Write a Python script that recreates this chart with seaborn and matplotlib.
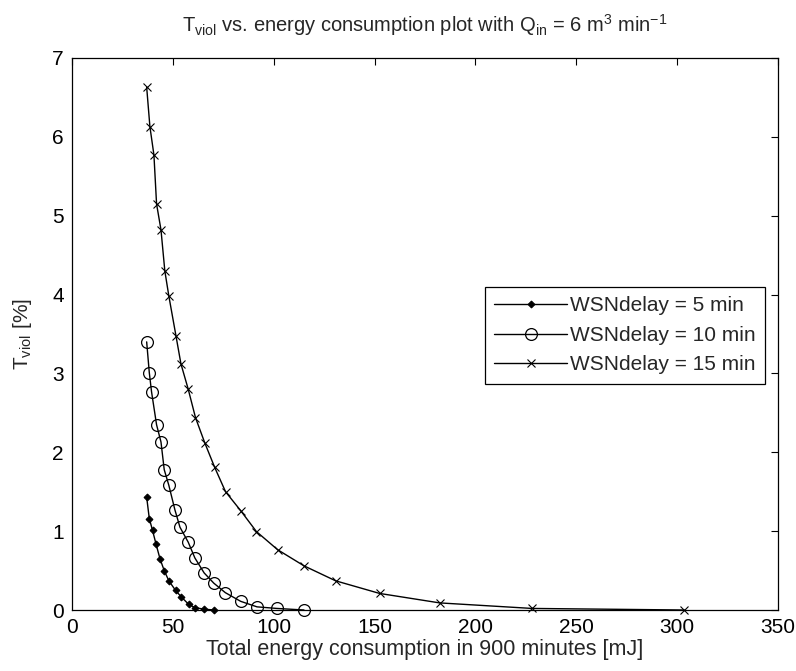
import numpy as np
import pandas as pd
import seaborn as sns
import matplotlib
matplotlib.use("Agg")
import matplotlib.pyplot as plt

# values
x5 = [37.0, 38.3, 39.9, 41.6, 43.6, 45.7, 48.0, 51.3, 54.0, 57.9, 60.9, 65.6, 70.6]
y5 = [1.43, 1.16, 1.01, 0.84, 0.65, 0.50, 0.37, 0.25, 0.17, 0.07, 0.03, 0.01, 0.0]

x10 = [37.0, 38.3, 39.4, 41.9, 44.1, 45.7, 48.0, 51.0, 53.5, 57.6, 60.9, 65.5,
       70.3, 76.0, 83.6, 91.7, 101.5, 115.0]
y10 = [3.40, 3.01, 2.77, 2.35, 2.13, 1.78, 1.58, 1.27, 1.05, 0.86, 0.66, 0.47,
       0.34, 0.22, 0.11, 0.04, 0.02, 0.0]

x15 = [37.0, 38.6, 40.6, 41.9, 44.1, 46.0, 48.0, 51.5, 54.0, 57.6, 61.2, 65.8,
       70.7, 76.1, 83.6, 91.4, 101.9, 115.0, 130.7, 152.5, 182.3, 228.0, 303.5]
y15 = [6.63, 6.13, 5.77, 5.15, 4.82, 4.30, 3.98, 3.48, 3.12, 2.80, 2.44, 2.12,
       1.81, 1.50, 1.26, 0.995, 0.765, 0.56, 0.37, 0.21, 0.09, 0.02, 0.0]

labels = ["WSNdelay = 5 min", "WSNdelay = 10 min", "WSNdelay = 15 min"]
xticks = [0, 50, 100, 150, 200, 250, 300, 350]
yticks = [0, 1, 2, 3, 4, 5, 6, 7]

sns.set_style("white")
plt.rcParams["font.family"] = ["Liberation Sans", "DejaVu Sans"]
plt.rcParams["mathtext.fontset"] = "custom"
plt.rcParams["mathtext.rm"] = "Liberation Sans"
plt.rcParams["mathtext.it"] = "Liberation Sans"

fs = 15
fig = plt.figure(figsize=(7.96, 6.71), dpi=100)
ax = fig.add_axes([0.0905, 0.0909, 0.8869, 0.8227])

series = [
    (x5, y5, dict(marker="D", markersize=3.5, markerfacecolor="k", markeredgecolor="k")),
    (x10, y10, dict(marker="o", markersize=8.5, markerfacecolor="none", markeredgecolor="k",
                    markeredgewidth=0.9)),
    (x15, y15, dict(marker="x", markersize=5.5, markeredgecolor="k", markeredgewidth=0.8)),
]
for (xs, ys, mk), lab in zip(series, labels):
    df = pd.DataFrame({"x": xs, "y": ys})
    sns.lineplot(data=df, x="x", y="y", sort=False, estimator=None, color="k",
                 linewidth=1.0, label=lab, ax=ax, clip_on=False, **mk)

ax.set_xlim(0, 350)
ax.set_ylim(0, 7)
ax.set_xticks(xticks)
ax.set_yticks(yticks)
ax.tick_params(direction="in", length=5, width=0.8, top=True, right=True,
               labelsize=fs, colors="k")
ax.tick_params(axis="x", pad=6)
ax.tick_params(axis="y", pad=6)
for s in ax.spines.values():
    s.set_color("k")
    s.set_linewidth(0.9)

ax.set_xlabel("Total energy consumption in 900 minutes [mJ]", fontsize=15.5, labelpad=1)
ax.set_ylabel(r"T$_{\mathrm{viol}}$ [%]", fontsize=fs, labelpad=13)
ax.set_title(r"T$_{\mathrm{viol}}$ vs. energy consumption plot with Q$_{\mathrm{in}}$ = 6 m$^3$ min$^{-1}$",
             fontsize=14.5, pad=19)

leg = ax.legend(loc="upper right", bbox_to_anchor=(0.982, 0.585), borderaxespad=0,
                fontsize=fs, fancybox=False, framealpha=1, edgecolor="k",
                handlelength=3.5, handletextpad=0.15, labelspacing=0.5, borderpad=0.45)
leg.get_frame().set_linewidth(0.9)

fig.savefig("out.png", dpi=100)
